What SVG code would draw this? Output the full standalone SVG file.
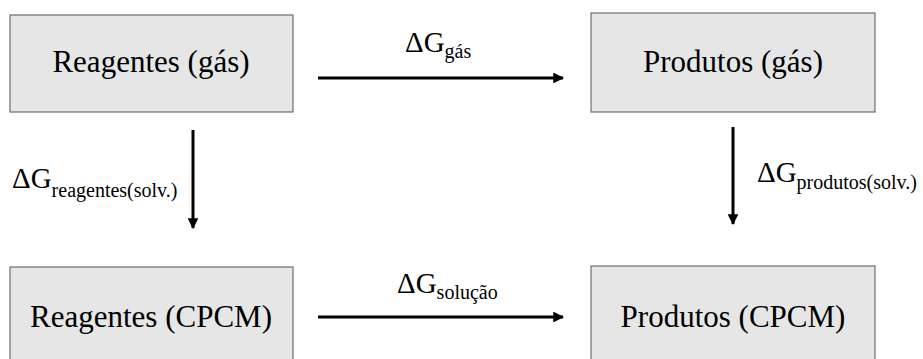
<svg xmlns="http://www.w3.org/2000/svg" width="923" height="359" viewBox="0 0 923 359">
<defs>
<style>
.box{fill:#e6e6e6;stroke:#6e6e6e;stroke-width:1.2}
text{font-family:'Liberation Serif','Times New Roman',serif;fill:#000}
.lbl{font-size:31px;text-anchor:middle}
.dg{font-size:29px}
.sub{font-size:20px}
.arr{stroke:#000;stroke-width:3;fill:none;marker-end:url(#ah)}
</style>
<marker id="ah" viewBox="0 0 10 10" refX="9" refY="5" markerWidth="3.6" markerHeight="3.6" orient="auto" markerUnits="strokeWidth">
<path d="M0,0 L10,5 L0,10 z" fill="#000"/>
</marker>
</defs>
<rect width="923" height="359" fill="#fff"/>
<g id="reagentes-gas"><rect class="box" x="10" y="15" width="283" height="97"/><text class="lbl" x="151" y="72">Reagentes (gás)</text></g>
<g id="produtos-gas"><rect class="box" x="591" y="13" width="284" height="99"/><text class="lbl" x="733" y="72">Produtos (gás)</text></g>
<g id="reagentes-cpcm"><rect class="box" x="10" y="267" width="283" height="99"/><text class="lbl" x="151" y="327">Reagentes (CPCM)</text></g>
<g id="produtos-cpcm"><rect class="box" x="591" y="266" width="284" height="100"/><text class="lbl" x="733" y="327">Produtos (CPCM)</text></g>
<g id="connectors">
<line class="arr" x1="318" y1="78" x2="563" y2="78"/>
<line class="arr" x1="318" y1="317" x2="563" y2="317"/>
<line class="arr" x1="193" y1="130" x2="193" y2="228"/>
<line class="arr" x1="733" y1="127" x2="733" y2="224"/>
<text class="dg" x="405" y="52">ΔG<tspan class="sub" dy="6">gás</tspan></text>
<text class="dg" x="397" y="293">ΔG<tspan class="sub" dy="6">solução</tspan></text>
<text class="dg" x="12" y="188">ΔG<tspan class="sub" dy="9">reagentes(solv.)</tspan></text>
<text class="dg" x="757" y="182">ΔG<tspan class="sub" dy="7">produtos(solv.)</tspan></text>
</g>
</svg>
